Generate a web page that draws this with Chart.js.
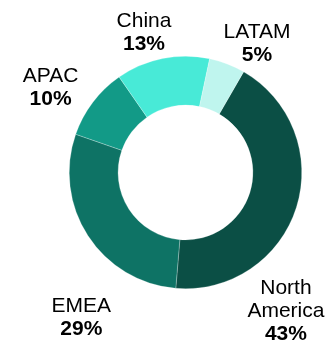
<!DOCTYPE html>
<html>
<head>
<meta charset="utf-8">
<script src="https://cdn.jsdelivr.net/npm/chart.js@4/dist/chart.umd.min.js"></script>
<style>
    html, body { margin: 0; padding: 0; background: #fff; }
    #wrap { width: 326px; height: 341px; }
</style>
</head>
<body>
<div id="wrap"><canvas id="regionShare"></canvas></div>
<script>
// revenue share by region, clockwise from the top-right
const regions = ['North America', 'EMEA', 'APAC', 'China', 'LATAM'];
const shares = [43, 29, 10, 13, 5];
const regionColors = ['#0b4f45', '#0e7365', '#129a87', '#48ead7', '#bff5ee'];
const labelLines = [['North', 'America'], ['EMEA'], ['APAC'], ['China'], ['LATAM']];

// labels sit outside the ring; nudges push them clear of the canvas edges
const outsideLabels = {
    id: 'outsideLabels',
    afterDatasetsDraw(chart, args, opts) {
        const ctx = chart.ctx;
        const meta = chart.getDatasetMeta(0);
        const size = opts.fontSize;
        const lh = opts.lineHeight;
        ctx.save();
        ctx.fillStyle = '#000';
        ctx.textAlign = 'center';
        ctx.textBaseline = 'alphabetic';
        meta.data.forEach((arc, i) => {
            const mid = (arc.startAngle + arc.endAngle) / 2;
            const r = arc.outerRadius + opts.gap;
            const nudge = opts.nudges[i] || [0, 0];
            const x = arc.x + Math.cos(mid) * r + nudge[0];
            const y = arc.y + Math.sin(mid) * r + nudge[1];
            const lines = labelLines[i].concat([shares[i] + '%']);
            const top = y - (lines.length - 1) * lh / 2;
            lines.forEach((txt, j) => {
                const bold = j === lines.length - 1;
                ctx.font = (bold ? 'bold ' : '') + size + 'px "Liberation Sans", Arial, sans-serif';
                ctx.fillText(txt, x, top + j * lh + size * 0.358);
            });
        });
        ctx.restore();
    }
};

new Chart(document.getElementById('regionShare').getContext('2d'), {
    type: 'doughnut',
    data: {
        labels: regions,
        datasets: [{
            data: shares,
            backgroundColor: regionColors,
            borderColor: 'rgba(255, 255, 255, 0.5)',
            borderWidth: 0.5,
            hoverOffset: 0
        }]
    },
    options: {
        responsive: true,
        maintainAspectRatio: false,
        animation: false,
        rotation: 30,
        cutout: '58%',
        layout: {
            padding: { left: 69, right: 24, top: 56, bottom: 52 }
        },
        plugins: {
            legend: { display: false },
            tooltip: { enabled: false },
            outsideLabels: {
                fontSize: 21,
                lineHeight: 23,
                gap: 33,
                nudges: [[-42, 92], [21, 62], [-16, 4], [-12, 5], [18, 9]]
            }
        }
    },
    plugins: [outsideLabels]
});
</script>
</body>
</html>
